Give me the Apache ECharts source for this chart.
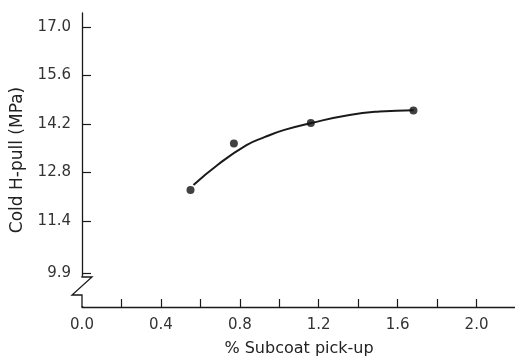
<!DOCTYPE html>
<html>
<head>
<meta charset="utf-8">
<script src="https://cdn.jsdelivr.net/npm/echarts@6/dist/echarts.min.js"></script>
<style>html,body{margin:0;padding:0;background:#fff}#c{width:515px;height:358px}</style>
</head>
<body>
<div id="c"></div>
<script>
// Measured points
var pickup = [0.55, 0.77, 1.16, 1.68];
var hpull = [12.30, 13.64, 14.23, 14.59];
// Fitted curve
var curveX = [0.565, 0.687, 0.834, 0.925, 1.026, 1.163, 1.356, 1.508, 1.681];
var curveY = [12.44, 13.02, 13.59, 13.82, 14.03, 14.23, 14.46, 14.56, 14.60];
// Tick labels
var yTicks = [9.9, 11.4, 12.8, 14.2, 15.6, 17.0];
var xLabelStep = 0.4;

var chart = echarts.init(document.getElementById('c'), null, {renderer: 'canvas'});
var ink = '#1a1a1a';
var font = 'DejaVu Sans';
var option = {
  backgroundColor: '#fff',
  animation: false,
  grid: {left: 82, right: -1, top: 13, bottom: 51, containLabel: false, outerBoundsMode: 'none'},
  xAxis: {
    type: 'value', min: 0, max: 2.2, interval: 0.2,
    name: '% Subcoat pick-up', nameLocation: 'middle', nameGap: 34,
    nameTextStyle: {fontFamily: font, fontSize: 16, color: '#222'},
    axisLine: {show: true, lineStyle: {color: ink, width: 1.3}},
    axisTick: {show: true, inside: true, length: 8, lineStyle: {color: ink, width: 1.2}},
    axisLabel: {
      fontFamily: font, fontSize: 15, color: '#333', margin: 11,
      formatter: function (v) {
        var k = Math.round(v * 10);
        return (k % Math.round(xLabelStep * 10) === 0) ? v.toFixed(1) : '';
      }
    },
    splitLine: {show: false}
  },
  yAxis: {
    type: 'value', min: 8.925, max: 17.40,
    name: 'Cold H-pull (MPa)', nameLocation: 'middle', nameGap: 56,
    nameTextStyle: {fontFamily: font, fontSize: 17, color: '#222'},
    axisLine: {show: true, lineStyle: {color: ink, width: 1.3}},
    axisTick: {show: true, inside: true, length: 9, customValues: yTicks, lineStyle: {color: ink, width: 1.2}},
    axisLabel: {
      fontFamily: font, fontSize: 15, color: '#333', margin: 11,
      customValues: yTicks,
      formatter: function (v) { return v.toFixed(1); }
    },
    splitLine: {show: false}
  },
  series: [
    {
      type: 'line', smooth: 0.5, symbol: 'none',
      data: curveX.map(function (x, i) { return [x, curveY[i]]; }),
      lineStyle: {color: ink, width: 2}, z: 2
    },
    {
      type: 'scatter', symbol: 'circle', symbolSize: 8,
      data: pickup.map(function (x, i) { return [x, hpull[i]]; }),
      itemStyle: {color: '#111'}, z: 3
    }
  ]
};
chart.setOption(option);

// Axis break symbol on the y axis
var ax = chart.convertToPixel({xAxisIndex: 0}, 0);
var by = chart.convertToPixel({yAxisIndex: 0}, 8.925);
chart.setOption({
  graphic: [
    {type: 'rect', z: 100, shape: {x: ax - 3, y: by - 31, width: 6, height: 30}, style: {fill: '#fff'}},
    {type: 'polyline', z: 101,
     shape: {points: [[ax, by - 31], [ax, by - 30], [ax + 10, by - 30], [ax - 10, by - 12], [ax, by - 12], [ax, by]]},
     style: {stroke: ink, lineWidth: 1.3, fill: null}}
  ]
});
</script>
</body>
</html>
